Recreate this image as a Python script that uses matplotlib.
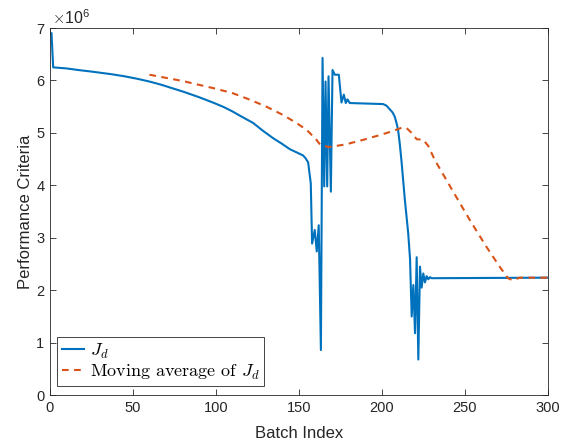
import matplotlib
matplotlib.use("Agg")
import matplotlib.pyplot as plt

# performance criteria J_d (units of 1e6) vs batch index
jd_batch = [1, 2, 10, 17, 25, 37, 45, 53, 60, 67, 74, 81, 90, 99, 105, 110, 115, 122.5,
            128, 134.5, 139.5, 144.6, 148.6, 152.6, 154, 155.6,
            157.2, 158.0, 159.6, 160.8, 162.0, 163.3, 164.3, 165.3, 166.1, 167.1, 167.9,
            169.3, 170.3, 171.7, 174.1, 175.7, 177.1, 178.3, 179.3, 180.7, 200.8, 202.8,
            204.8, 206.5, 207.8, 209.0, 209.8, 210.8, 211.9, 213.9, 215.9, 217.0, 218.0,
            219.0, 220.0, 221.0, 222.0, 223.0, 224.0, 225.0, 226.0, 227.0, 228.0, 229.0,
            230.0, 300]
jd_value = [6.90, 6.25, 6.23, 6.20, 6.17, 6.12, 6.08, 6.03, 5.98, 5.92, 5.85, 5.78, 5.68, 5.57,
            5.49, 5.41, 5.32, 5.19, 5.05, 4.90, 4.80, 4.69, 4.63, 4.57, 4.52, 4.44,
            4.04, 2.89, 3.15, 2.74, 3.24, 0.86, 6.43, 3.98, 5.98, 3.98, 6.08,
            3.88, 6.20, 6.11, 6.11, 5.58, 5.73, 5.57, 5.64, 5.57, 5.55, 5.52,
            5.45, 5.39, 5.31, 5.17, 5.06, 4.80, 4.45, 3.72, 3.09, 2.60, 1.50,
            2.10, 1.18, 2.63, 0.68, 2.45, 2.05, 2.32, 2.15, 2.27, 2.21, 2.25,
            2.23, 2.24]

# moving average of J_d
ma_batch = [60, 80, 99, 110, 120, 130.5, 140, 148.6, 155, 160.6, 163, 168, 178, 189, 200,
            207, 212, 215, 218, 221, 225, 228, 232, 243, 253, 263, 271, 276, 279, 283, 300]
ma_value = [6.11, 5.99, 5.85, 5.76, 5.64, 5.50, 5.35, 5.19, 5.05, 4.87, 4.77, 4.73, 4.78, 4.87, 4.97,
            5.04, 5.10, 5.09, 5.00, 4.88, 4.87, 4.75, 4.48, 3.88, 3.34, 2.83, 2.45, 2.23, 2.19, 2.24, 2.24]

plt.rcParams['font.family'] = ['Liberation Sans', 'DejaVu Sans']
plt.rcParams['mathtext.fontset'] = 'cm'

fig = plt.figure(figsize=(5.73, 4.45), dpi=100)
ax = fig.add_axes([0.087, 0.112, 0.869, 0.825])

ax.plot(jd_batch, jd_value, color='#0072BD', lw=1.5, label='$J_d$')
ax.plot(ma_batch, ma_value, color='#D95319', lw=1.5, ls=(0, (3.2, 2.6)),
        label='Moving average of $J_d$')

ax.set_xlim(0, 300)
ax.set_ylim(0, 7)
ax.set_xticks(range(0, 301, 50))
ax.set_yticks(range(0, 8))
ax.tick_params(direction='in', length=4, width=0.6, top=True, right=True,
               labelsize=10.5, colors='#262626', pad=4)
for s in ax.spines.values():
    s.set_linewidth(0.6)
    s.set_color('#262626')

ax.set_xlabel('Batch Index', fontsize=12, color='#262626', labelpad=8)
ax.set_ylabel('Performance Criteria', fontsize=12, color='#262626', labelpad=2)
ax.text(0.004, 1.003, r'$\times\mathregular{10^{6}}$', transform=ax.transAxes,
        fontsize=11.5, color='#262626', va='bottom', ha='left')

leg = ax.legend(loc='lower left', bbox_to_anchor=(0.0147, 0.0245), borderaxespad=0,
                prop={'family': 'cmr10', 'size': 13}, handlelength=1.25,
                fancybox=False, framealpha=1, borderpad=0.25, labelspacing=0.1,
                handletextpad=0.3)
leg.get_frame().set_edgecolor('#262626')
leg.get_frame().set_linewidth(0.6)

fig.savefig('out.png', dpi=100)
